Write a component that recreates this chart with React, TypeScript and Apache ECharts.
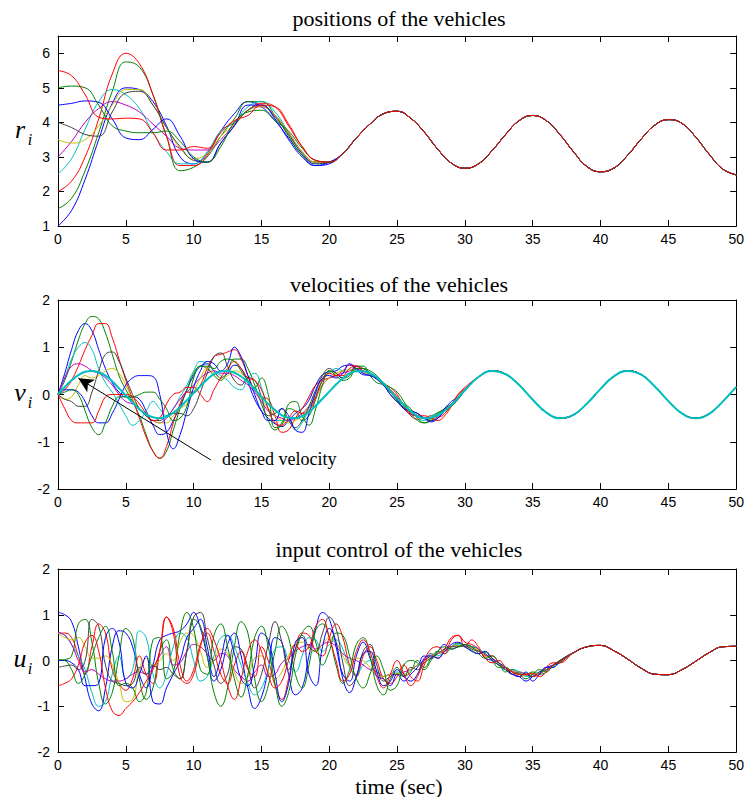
import React, { useEffect, useRef } from "react";
import * as echarts from "echarts";

// MATLAB default colour order, 10 vehicles
const COLORS = ["#0000ff", "#008000", "#ff0000", "#00bfbf", "#bf00bf", "#bfbf00", "#404040", "#0000ff", "#008000", "#ff0000"];

// ---------- positions r_i : t = 0..20 (step 1) per vehicle, then common tail t = 21..50 ----------
const posV1 = [1.0, 1.45, 2.35, 3.5, 4.55, 5.0, 4.95, 4.6, 3.9, 3.0, 2.8, 3.1, 3.75, 4.25, 4.6, 4.45, 4.05, 3.55, 3.05, 2.75, 2.8];
const posV2 = [1.5, 1.8, 2.6, 3.7, 4.9, 5.75, 5.6, 4.8, 3.6, 2.6, 2.7, 3.0, 3.6, 4.1, 4.6, 4.6, 4.2, 3.6, 3.05, 2.85, 2.85];
const posV3 = [2.0, 2.3, 3.0, 4.1, 5.4, 6.0, 5.7, 4.8, 3.6, 2.75, 2.75, 3.05, 3.75, 4.0, 4.35, 4.55, 4.45, 3.9, 3.3, 2.9, 2.85];
const posV4 = [2.5, 2.95, 3.8, 4.6, 4.95, 4.8, 4.4, 3.7, 3.15, 2.8, 2.8, 3.15, 3.75, 4.0, 4.45, 4.6, 4.3, 3.7, 3.1, 2.8, 2.85];
const posV5 = [3.0, 3.45, 4.0, 4.4, 4.6, 4.5, 4.3, 3.95, 3.6, 3.25, 3.2, 3.2, 3.5, 3.95, 4.35, 4.45, 4.2, 3.7, 3.15, 2.85, 2.85];
const posV6 = [3.5, 3.4, 3.5, 3.9, 4.5, 4.95, 4.95, 4.5, 3.85, 3.25, 2.95, 3.1, 3.6, 3.95, 4.35, 4.45, 4.2, 3.7, 3.15, 2.85, 2.85];
const posV7 = [4.0, 3.85, 3.65, 3.6, 4.3, 4.85, 4.9, 4.5, 3.85, 3.3, 2.9, 2.85, 3.4, 3.9, 4.35, 4.5, 4.15, 3.65, 3.1, 2.8, 2.85];
const posV8 = [4.5, 4.55, 4.62, 4.58, 4.1, 3.55, 3.5, 3.8, 4.1, 3.6, 2.95, 2.85, 3.4, 3.9, 4.5, 4.5, 4.1, 3.5, 3.0, 2.75, 2.85];
const posV9 = [5.0, 5.05, 5.0, 4.5, 3.9, 3.75, 3.7, 3.7, 3.75, 3.45, 3.0, 2.85, 3.3, 4.0, 4.3, 4.35, 4.05, 3.75, 3.25, 2.9, 2.85];
const posV10 = [5.5, 5.35, 4.8, 4.15, 4.1, 4.12, 4.1, 3.7, 3.2, 3.2, 3.3, 3.25, 3.7, 4.05, 4.2, 4.5, 4.45, 3.95, 3.3, 2.9, 2.85];
const posTail = [3.1, 3.55, 3.95, 4.25, 4.32, 4.12, 3.72, 3.22, 2.82, 2.67, 2.8, 3.18, 3.65, 4.05, 4.2, 4.05, 3.65, 3.15, 2.72, 2.57, 2.68, 3.05, 3.52, 3.92, 4.08, 3.97, 3.58, 3.08, 2.65, 2.48];

// ---------- velocities v_i : t = 0..30 (step 0.5) per vehicle, then common tail t = 31..50 ----------
const velV1 = [0, .45, .95, 1.35, 1.5, 1.35, .95, .55, .25, .05, -.05, -.05, -.1, -.35, -.65, -.85, -.8, -.55, -.25, .1, .4, .6, .65, .5, .35,
  .45, .62, .55, .25, -.1, -.35, -.5, -.62, -.68, -.55, -.4, -.3, -.12, .2, .42, .48, .5, .6, .62, .52, .42, .4, .32, .2,
  .1, -.1, -.3, -.42, -.45, -.5, -.55, -.5, -.35, -.2, -.05, .1];
const velV2 = [0, .3, .7, 1.15, 1.5, 1.65, 1.6, 1.3, .85, .4, .1, -.15, -.45, -.85, -1.2, -1.35, -1.2, -.75, -.3, .1, .45, .6, .55, .4, .3,
  .5, .75, .75, .55, .2, -.2, -.55, -.75, -.6, -.3, -.35, -.55, -.45, -.1, .3, .5, .45, .35, .4, .6, .6, .4, .25, .2,
  0, -.15, -.2, -.3, -.5, -.6, -.55, -.4, -.3, -.25, -.1, .1];
const velV3 = [0, .1, .3, .6, .95, 1.25, 1.5, 1.5, 1.2, .75, .3, -.1, -.5, -.9, -1.2, -1.35, -1.1, -.6, -.2, .05, .05, .2, .55, .8, .85,
  .9, .95, .75, .4, .1, -.05, -.1, -.45, -.8, -.75, -.5, -.3, -.05, .2, .3, .35, .4, .5, .62, .6, .5, .45, .35, .2,
  .15, 0, -.25, -.45, -.52, -.5, -.45, -.48, -.4, -.22, 0, .12];
const velV4 = [0, .35, .75, 1.0, 1.1, .95, .55, .25, .05, -.2, -.45, -.65, -.55, -.35, -.15, -.3, -.45, -.3, -.05, .2, .5, .7, .65, .5, .4,
  .3, .15, .1, .35, .45, .15, -.3, -.55, -.55, -.55, -.75, -.6, -.3, 0, .3, .45, .55, .5, .45, .5, .55, .45, .35, .2,
  .05, -.05, -.2, -.35, -.5, -.55, -.45, -.4, -.35, -.2, -.05, .1];
const velV5 = [0, .35, .6, .65, .6, .5, .45, .35, .2, 0, -.15, -.2, -.3, -.45, -.55, -.6, -.5, -.3, -.1, .05, .2, .35, .45, .5, .45,
  .45, .4, .3, .2, .05, -.15, -.35, -.45, -.5, -.55, -.5, -.4, -.25, -.05, .2, .35, .4, .45, .5, .55, .5, .42, .35, .22,
  .08, -.08, -.22, -.35, -.45, -.5, -.49, -.44, -.34, -.22, -.06, .09];
const velV6 = [0, -.1, -.05, .2, .4, .35, .4, .5, .55, .45, .2, -.1, -.3, -.45, -.55, -.6, -.6, -.45, -.3, -.2, .05, .35, .55, .45, .35,
  .4, .5, .45, .3, .1, -.1, -.3, -.45, -.55, -.6, -.55, -.45, -.25, -.05, .2, .35, .45, .5, .52, .5, .47, .42, .35, .22,
  .1, -.06, -.2, -.33, -.44, -.5, -.5, -.45, -.35, -.2, -.05, .1];
const velV7 = [0, -.1, -.15, -.25, -.25, .05, .5, .85, .9, .7, .35, 0, -.3, -.45, -.55, -.55, -.45, -.4, -.4, -.45, -.3, .05, .45, .8, .88,
  .6, .3, .2, .35, .3, -.05, -.45, -.4, -.3, -.55, -.7, -.55, -.25, .1, .4, .55, .45, .35, .45, .6, .55, .45, .35, .2,
  .05, -.12, -.28, -.35, -.4, -.5, -.55, -.45, -.3, -.2, -.1, .08];
const velV8 = [0, .1, .1, .05, -.15, -.45, -.6, -.6, -.4, -.1, .2, .35, .4, .4, .38, 0, -.8, -1.15, -.85, -.35, .15, .5, .7, .65, .5,
  .65, 1.0, .8, .4, 0, -.35, -.55, -.55, -.3, -.45, -.75, -.8, -.4, .05, .35, .4, .35, .45, .65, .55, .45, .4, .35, .2,
  0, -.15, -.3, -.35, -.4, -.5, -.58, -.5, -.3, -.15, -.05, .1];
const velV9 = [0, .05, .1, 0, -.35, -.7, -.85, -.6, -.25, -.05, -.05, -.05, 0, .05, .05, -.1, -.3, -.55, -.5, -.25, .35, .6, .6, .55, .7,
  .75, .7, .5, .3, .15, .35, 0, -.7, -.65, -.2, -.15, -.45, -.65, -.3, .2, .5, .4, .3, .35, .55, .55, .5, .4, .25,
  .15, .05, -.15, -.4, -.55, -.6, -.5, -.38, -.35, -.25, -.05, .1];
const velV10 = [0, -.3, -.55, -.6, -.6, -.6, -.35, -.05, 0, 0, 0, -.05, -.2, -.4, -.55, -.5, -.2, 0, .05, .15, .15, 0, -.15, .1, .35,
  .55, .7, .55, .35, .3, .1, -.3, -.6, -.65, -.5, -.35, -.4, -.35, -.05, .3, .45, .4, .4, .55, .6, .5, .45, .35, .22,
  .1, -.05, -.25, -.4, -.45, -.45, -.5, -.55, -.45, -.25, 0, .15];
const velTail = [.37, .5, .43, .2, -.11, -.38, -.5, -.43, -.19, .12, .39, .5, .42, .17, -.14, -.4, -.5, -.41, -.15, .16];
const desiredEarly = [0, .16, .30, .41, .48, .50, .47, .40, .28, .13, -.02, -.17, -.31, -.42, -.48, -.50, -.47, -.39, -.27, -.12,
  .03, .18, .32, .43, .49, .50, .46, .38, .26, .11, -.05, -.20, -.33, -.44, -.49, -.50, -.46, -.37, -.24, -.09, .06, .21, .34, .44, .49, .49, .45, .36, .23];
const desiredTail = [-.08, -.35, -.5, -.44, -.22, .09, .37, .5, .43, .2, -.11, -.38, -.5, -.43, -.19, .12, .39, .5, .42, .17, -.14, -.4, -.5, -.41, -.15, .16];

// ---------- input control u_i : t = 0..37 (step 0.5) per vehicle, then common tail t = 38..50 ----------
const uV1 = [1.05, 1.0, .85, .3, -.4, -.95, -1.1, -.6, .3, .65, .6, .3, -.3, -.6, -.1, .45, .55, .6, .65, .8, 1.05, .7, .1, -.45, -.2, .35, .6, .1, -.6, -1.05,
  -.8, -.2, .5, .4, -.3, -.75, -.6, .1, .7, 1.05, .9, .3, -.3, -.45, .1, .4, .05, -.35, -.4, -.55, -.3, -.45, -.3, -.15, .1, .05, .2, .35, .25, .3, .35,
  .3, .25, .05, 0, -.1, -.2, -.3, -.35, -.45, -.35, -.25, -.15, -.1, -.03];
const uV2 = [0, .02, .1, .8, .9, .4, -.5, -.95, -.7, .1, .7, .5, -.4, -.85, -.6, .2, .45, -.2, -.4, .2, .9, .75, .1, -.7, -1.0, -.6, .3, .85, .6, -.4,
  -.9, -.55, .2, .75, .5, -.3, -.6, -.1, .65, .8, .5, -.1, -.5, -.2, .35, .5, .1, -.55, -.75, -.4, -.15, -.35, -.25, 0, -.15, .05, .2, .15, .3, .38, .3,
  .22, .15, .18, 0, -.15, -.15, -.25, -.3, -.3, -.25, -.3, -.25, -.1, 0];
const uV3 = [.6, .6, .5, .1, -.3, .3, .8, .6, -.2, -.5, -.65, -.4, .1, -.3, -.5, .2, .95, .7, -.1, -.45, -.2, .35, .6, .2, -.3, -.5, -.1, .2, -.2, -.35,
  .3, 0, -.55, -.85, -.4, .25, .6, .55, .2, .1, .5, .8, .5, -.1, -.35, .1, .3, 0, -.4, -.5, -.35, -.1, -.35, -.45, -.1, .15, .05, .25, .5, .55, .3,
  .45, .3, .1, .1, -.05, -.2, -.25, -.35, -.3, -.35, -.3, -.15, -.05, -.05];
const uV4 = [.6, .55, .35, .1, -.2, -.7, -1.0, -.9, -.3, .1, -.4, -.2, .65, .5, -.3, -.6, -.3, .3, .6, .5, 0, -.45, -.35, .1, .5, .55, .3, -.1, -.5, -.75,
  -.6, -.2, .25, .3, 0, -.25, .1, .5, .45, .2, .35, .45, .25, -.15, -.3, -.1, 0, -.2, -.35, -.3, -.25, -.3, -.2, -.1, 0, .15, .1, .2, .3, .35, .3,
  .3, .25, .15, 0, -.1, -.2, -.2, -.25, -.35, -.3, -.25, -.2, -.15, -.05];
const uV5 = [.62, .55, .35, 0, -.25, -.2, -.3, -.4, -.45, -.45, -.4, -.3, -.25, -.3, -.15, .1, .3, -.1, -.05, .2, .35, .3, .15, 0, .15, .1, -.2, -.35, -.45, -.25,
  -.1, -.35, -.3, -.05, .05, .2, .3, .35, .25, .35, .4, .3, .15, .05, 0, -.1, -.2, -.25, -.35, -.3, -.3, -.25, -.2, -.1, 0, .1, .15, .2, .3, .32, .3,
  .28, .2, .12, .03, -.06, -.16, -.23, -.29, -.32, -.31, -.28, -.21, -.12, -.03];
const uV6 = [.6, .5, .45, .5, .3, .05, .05, .1, -.1, -.5, -.9, -.85, -.2, .05, -.1, 0, .15, 0, .4, .6, .55, .2, -.15, 0, .25, .15, -.25, -.5, -.35, .05,
  .1, -.25, -.4, -.25, .1, .35, .4, .25, .2, .35, .5, .4, .1, -.1, .05, 0, -.15, -.3, -.35, -.3, -.28, -.3, -.2, -.1, -.05, .1, .15, .22, .3, .33, .3,
  .28, .22, .1, .05, -.06, -.15, -.24, -.3, -.32, -.3, -.27, -.2, -.12, -.03];
const uV7 = [-.15, -.12, -.1, -.2, 0, .9, .75, -.1, -.45, -.5, -.55, -.5, -.15, -.3, -.1, -.2, -.15, -.3, -.4, .2, .95, 1.05, .5, -.1, -.5, -.3, .3, .25, -.15, -.6,
  -.3, .35, .85, .4, -.2, .25, .55, .3, .2, .6, .95, .7, -.05, -.55, -.35, .2, .35, -.1, -.45, -.35, -.3, -.35, -.15, -.2, -.05, .05, .15, .25, .3, .3, .32,
  .25, .2, .15, 0, -.1, -.2, -.3, -.25, -.3, -.35, -.25, -.2, -.1, -.05];
const uV8 = [0, 0, -.05, -.2, -.55, -.55, -.5, .5, .7, .4, -.5, -.6, -.3, .1, -.9, -.95, -.6, -.3, 0, .5, .7, .9, .3, -.35, .05, .55, .15, -.4, -.55, -.1,
  .6, .45, -.3, -.9, -.5, .4, .5, -.3, -.55, .3, .7, .4, -.4, -.7, -.35, .15, .2, -.25, -.55, -.45, -.2, -.35, -.45, -.3, .05, .1, .05, .2, .35, .4, .3,
  .2, .15, .2, .05, -.05, -.15, -.3, -.35, -.25, -.45, -.3, -.15, -.15, 0];
const uV9 = [.02, 0, -.2, -.5, -.3, .1, .5, .75, .2, -.55, -.5, -.6, -.9, -.7, .45, .5, -.4, -.25, .6, 1.05, .7, -.2, -.3, .55, .8, .3, -.4, -.8, -.3, .5,
  .75, .3, -.5, -1.0, -.7, .1, .6, .75, .4, -.1, .2, .6, .55, .1, -.4, -.6, -.3, .1, -.2, -.65, -.55, -.1, 0, -.05, -.2, 0, .2, .3, .25, .3, .35,
  .3, .15, .05, .1, -.05, -.25, -.2, -.3, -.4, -.3, -.2, -.25, -.1, 0];
const uV10 = [-.55, -.5, -.4, -.1, .4, .55, .2, -.6, -1.1, -1.2, -1.05, -.9, -.7, -.45, -.2, .2, .95, .6, -.35, -.5, -.3, .3, .7, .45, 0, -.55, -.85, -.4, .2, .45,
  .2, -.3, -.6, -.45, 0, .35, .2, .3, .75, .9, .5, 0, -.45, -.3, .2, .45, .2, -.35, -.6, -.3, 0, -.3, -.55, -.35, 0, .25, .3, .15, .45, .55, .4,
  .35, .25, .05, -.05, 0, -.15, -.25, -.3, -.3, -.28, -.35, -.25, -.1, -.02];
const uTail = [.17, .3, .33, .21, .03, -.17, -.3, -.31, -.2, -.02, .17, .3, .31];

const positions = [posV1, posV2, posV3, posV4, posV5, posV6, posV7, posV8, posV9, posV10];
const velocities = [velV1, velV2, velV3, velV4, velV5, velV6, velV7, velV8, velV9, velV10];
const inputs = [uV1, uV2, uV3, uV4, uV5, uV6, uV7, uV8, uV9, uV10];

const titles = ["positions of the vehicles", "velocities of the vehicles", "input control of the vehicles"];
const yRanges = [[1, 6.5], [-2, 2], [-2, 2]];

function build(early: number[], step: number, tail: number[], tailStart: number): number[][] {
  const pts = early.map((v, i) => [i * step, v]);
  tail.forEach((v, i) => pts.push([tailStart + i, v]));
  return pts;
}

export default function App() {
  const ref = useRef<HTMLDivElement>(null);
  useEffect(() => {
    if (!ref.current) return;
    const chart = echarts.init(ref.current, undefined, { renderer: "svg" });
    const grids = [
      { left: 58, top: 36, width: 682, height: 190 },
      { left: 58, top: 300, width: 682, height: 189 },
      { left: 58, top: 569, width: 682, height: 183 },
    ];
    const line = { onZero: false, lineStyle: { color: "#000", width: 1 } };
    const tick = { inside: true, length: 6, lineStyle: { color: "#000", width: 1 } };
    const lab = { color: "#000", fontSize: 14, fontFamily: "Liberation Sans, Arial, sans-serif" };
    const xAxis: any[] = [];
    const yAxis: any[] = [];
    grids.forEach((_, g) => {
      xAxis.push({ gridIndex: g, type: "value", min: 0, max: 50, interval: 5, position: "bottom", axisLine: line, axisTick: tick, splitLine: { show: false }, axisLabel: { ...lab, margin: 6 } });
      xAxis.push({ gridIndex: g, type: "value", min: 0, max: 50, interval: 5, position: "top", axisLine: line, axisTick: tick, splitLine: { show: false }, axisLabel: { show: false } });
      yAxis.push({ gridIndex: g, type: "value", min: yRanges[g][0], max: yRanges[g][1], interval: 1, position: "left", axisLine: line, axisTick: tick, splitLine: { show: false }, axisLabel: { ...lab, margin: 8, showMaxLabel: g !== 0 } });
      yAxis.push({ gridIndex: g, type: "value", min: yRanges[g][0], max: yRanges[g][1], interval: 1, position: "right", axisLine: line, axisTick: tick, splitLine: { show: false }, axisLabel: { show: false } });
    });
    const series: any[] = [];
    const mk = (data: number[][], g: number, color: string, width = 1) => ({
      type: "line", xAxisIndex: 2 * g, yAxisIndex: 2 * g, data, smooth: 0.45, symbol: "none", silent: true,
      lineStyle: { color, width }, itemStyle: { color },
    });
    positions.forEach((p, i) => series.push(mk(build(p, 1, posTail, 21), 0, COLORS[i])));
    velocities.forEach((v, i) => series.push(mk(build(v, 0.5, velTail, 31), 1, COLORS[i])));
    const des = mk(build(desiredEarly, 0.5, desiredTail, 25), 1, "#00bfbf", 2);
    (des as any).markLine = {
      silent: true, symbol: ["none", "arrow"], symbolSize: [11, 15], label: { show: false },
      lineStyle: { color: "#000", width: 1, type: "solid" },
      data: [[{ coord: [11.27, -1.386] }, { coord: [1.5, 0.345] }]],
    };
    series.push(des);
    inputs.forEach((u, i) => series.push(mk(build(u, 0.5, uTail, 38), 2, COLORS[i])));

    const serif = "Liberation Serif, Times New Roman, serif";
    const graphic: any[] = [];
    const titleY = [18, 284, 549];
    titles.forEach((t, g) => graphic.push({ type: "text", x: 399, y: titleY[g], style: { text: t, font: `22px ${serif}`, fill: "#000", textAlign: "center", textVerticalAlign: "middle" } }));
    graphic.push({ type: "text", x: 399, y: 786, style: { text: "time (sec)", font: `22px ${serif}`, fill: "#000", textAlign: "center", textVerticalAlign: "middle" } });
    graphic.push({ type: "text", x: 222, y: 459, style: { text: "desired velocity", font: `18px ${serif}`, fill: "#000", textAlign: "left", textVerticalAlign: "middle" } });
    const ylabs = [["r", 131], ["v", 394], ["u", 660]];
    ylabs.forEach(([s, y]) => {
      graphic.push({ type: "text", x: 20, y: (y as number) - 2, style: { text: s as string, font: `italic 26px ${serif}`, fill: "#000", textAlign: "center", textVerticalAlign: "middle" } });
      graphic.push({ type: "text", x: 30, y: (y as number) + 8, style: { text: "i", font: `italic 16px ${serif}`, fill: "#000", textAlign: "center", textVerticalAlign: "middle" } });
    });

    chart.setOption({ animation: false, grid: grids, xAxis, yAxis, series, graphic });
    return () => chart.dispose();
  }, []);
  return <div ref={ref} style={{ position: "absolute", left: 0, top: 0, width: 747, height: 797, background: "#fff" }} />;
}
